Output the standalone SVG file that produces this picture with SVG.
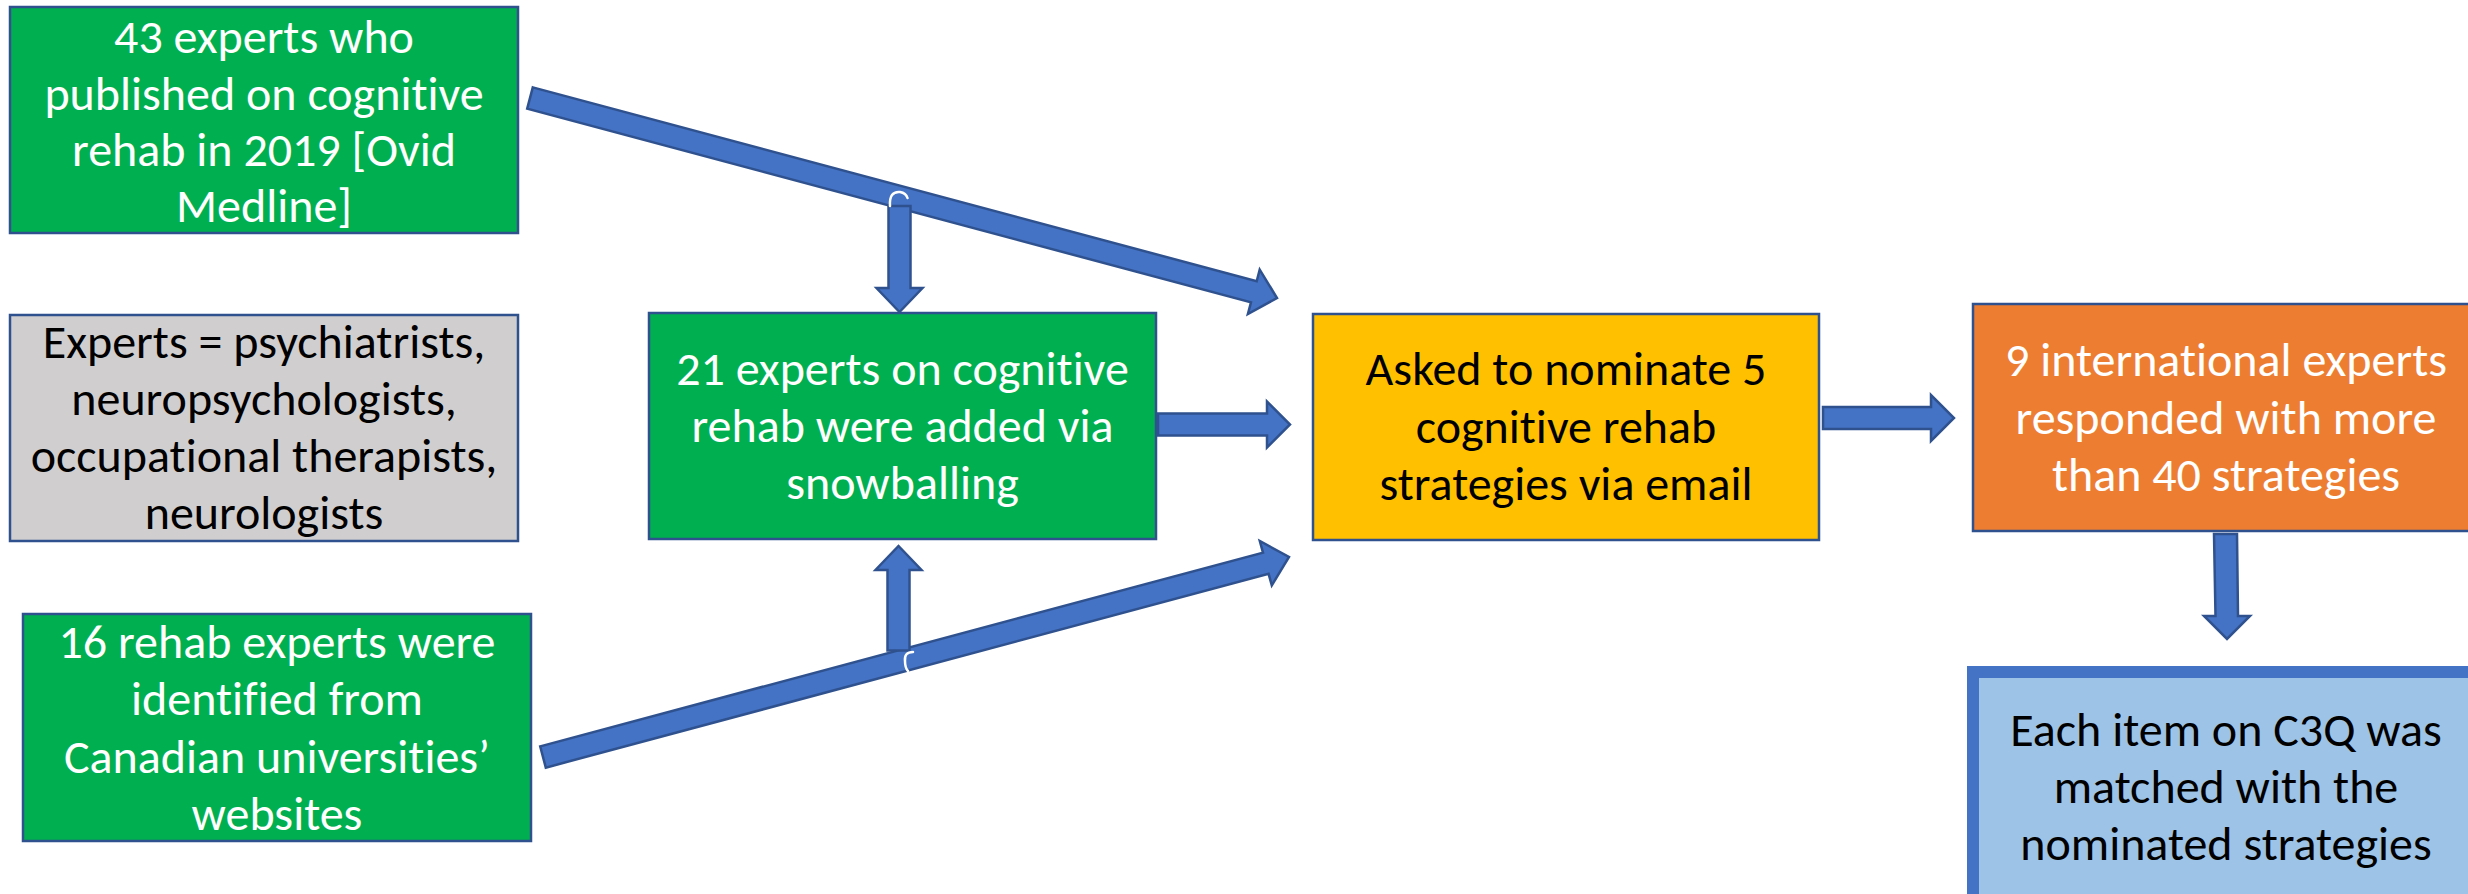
<svg xmlns="http://www.w3.org/2000/svg" width="2468" height="894" viewBox="0 0 2468 894">
  <style>
    .box { stroke: #2F528F; stroke-width: 2.5; }
    .green { fill: #00B050; }
    .grey { fill: #D0CECE; }
    .yellow { fill: #FFC000; }
    .orange { fill: #ED7D31; }
    .blue { fill: #9DC3E6; stroke: #4472C4; stroke-width: 12; }
    .lbl { font-family: Carlito, Calibri, Lato, "Liberation Sans", sans-serif; font-size: 48px; text-anchor: middle; font-variant-ligatures: none; }
    .w { fill: #FFFFFF; }
    .k { fill: #000000; }
    .arrow { fill: #4472C4; stroke: #2F528F; stroke-width: 2.5; stroke-linejoin: miter; }
    .jump { fill: none; stroke: #FFFFFF; stroke-width: 2.5; stroke-linecap: round; }
  </style>
  <rect width="2468" height="894" fill="#FFFFFF"/>

  <g id="connectors">
    <!-- search results into the nomination step -->
    <polygon class="arrow" points="532.8,87.4 1256.7,281.2 1259.7,269.6 1277,298 1247.9,314 1251,302.4 527.2,108.6"/>
    <polygon class="arrow" points="540.2,746.4 1263,552.6 1259.8,541 1289,557 1271.8,585.4 1268.6,573.8 545.8,767.6"/>
    <!-- branches down / up into the snowballing box -->
    <polygon class="arrow" points="888.5,206 910.5,206 910.5,288 922.5,288 899.5,312 876.5,288 888.5,288"/>
    <polygon class="arrow" points="887.5,650.5 909.5,650.5 909.5,570 921.5,570 898.5,546 875.5,570 887.5,570"/>
    <path class="jump" d="M890,206 Q889,191 900,192 Q906,193 907.5,198"/>
    <path class="jump" d="M913,652 Q904,652 905,661 Q905,668 908,671"/>
    <!-- main flow -->
    <polygon class="arrow" points="1158,413.5 1267,413.5 1267,401.5 1290,424.5 1267,447.5 1267,435.5 1158,435.5"/>
    <polygon class="arrow" points="1823,407 1931,407 1931,395 1954,418 1931,441 1931,429 1823,429"/>
    <polygon class="arrow" points="2214,534 2237,534 2238,616 2250,616 2227,639 2204,616 2215.5,616"/>
  </g>

  <g id="medline">
    <rect class="box green" x="10" y="7" width="508" height="226"/>
    <text class="lbl w" x="264" y="53">43 experts who</text>
    <text class="lbl w" x="264" y="110">published on cognitive</text>
    <text class="lbl w" x="264" y="166">rehab in 2019 [Ovid</text>
    <text class="lbl w" x="264" y="222">Medline]</text>
  </g>

  <g id="definition">
    <rect class="box grey" x="10" y="315" width="508" height="226"/>
    <text class="lbl k" x="264" y="358">Experts = psychiatrists,</text>
    <text class="lbl k" x="264" y="415">neuropsychologists,</text>
    <text class="lbl k" x="264" y="472">occupational therapists,</text>
    <text class="lbl k" x="264" y="529">neurologists</text>
  </g>

  <g id="universities">
    <rect class="box green" x="23" y="614" width="508" height="227"/>
    <text class="lbl w" x="277" y="658">16 rehab experts were</text>
    <text class="lbl w" x="277" y="715">identified from</text>
    <text class="lbl w" x="277" y="773">Canadian universities’</text>
    <text class="lbl w" x="277" y="830">websites</text>
  </g>

  <g id="snowballing">
    <rect class="box green" x="649" y="313" width="507" height="226"/>
    <text class="lbl w" x="902.5" y="385">21 experts on cognitive</text>
    <text class="lbl w" x="902.5" y="442">rehab were added via</text>
    <text class="lbl w" x="902.5" y="499">snowballing</text>
  </g>

  <g id="nomination">
    <rect class="box yellow" x="1313" y="314" width="506" height="226"/>
    <text class="lbl k" x="1566" y="385">Asked to nominate 5</text>
    <text class="lbl k" x="1566" y="443">cognitive rehab</text>
    <text class="lbl k" x="1566" y="500">strategies via email</text>
  </g>

  <g id="responses">
    <rect class="box orange" x="1973" y="304" width="506" height="227"/>
    <text class="lbl w" x="2226" y="376">9 international experts</text>
    <text class="lbl w" x="2226" y="434">responded with more</text>
    <text class="lbl w" x="2226" y="491">than 40 strategies</text>
  </g>

  <g id="matching">
    <rect class="blue" x="1973" y="672" width="506" height="240"/>
    <text class="lbl k" x="2226" y="746">Each item on C3Q was</text>
    <text class="lbl k" x="2226" y="803">matched with the</text>
    <text class="lbl k" x="2226" y="860">nominated strategies</text>
  </g>
</svg>
